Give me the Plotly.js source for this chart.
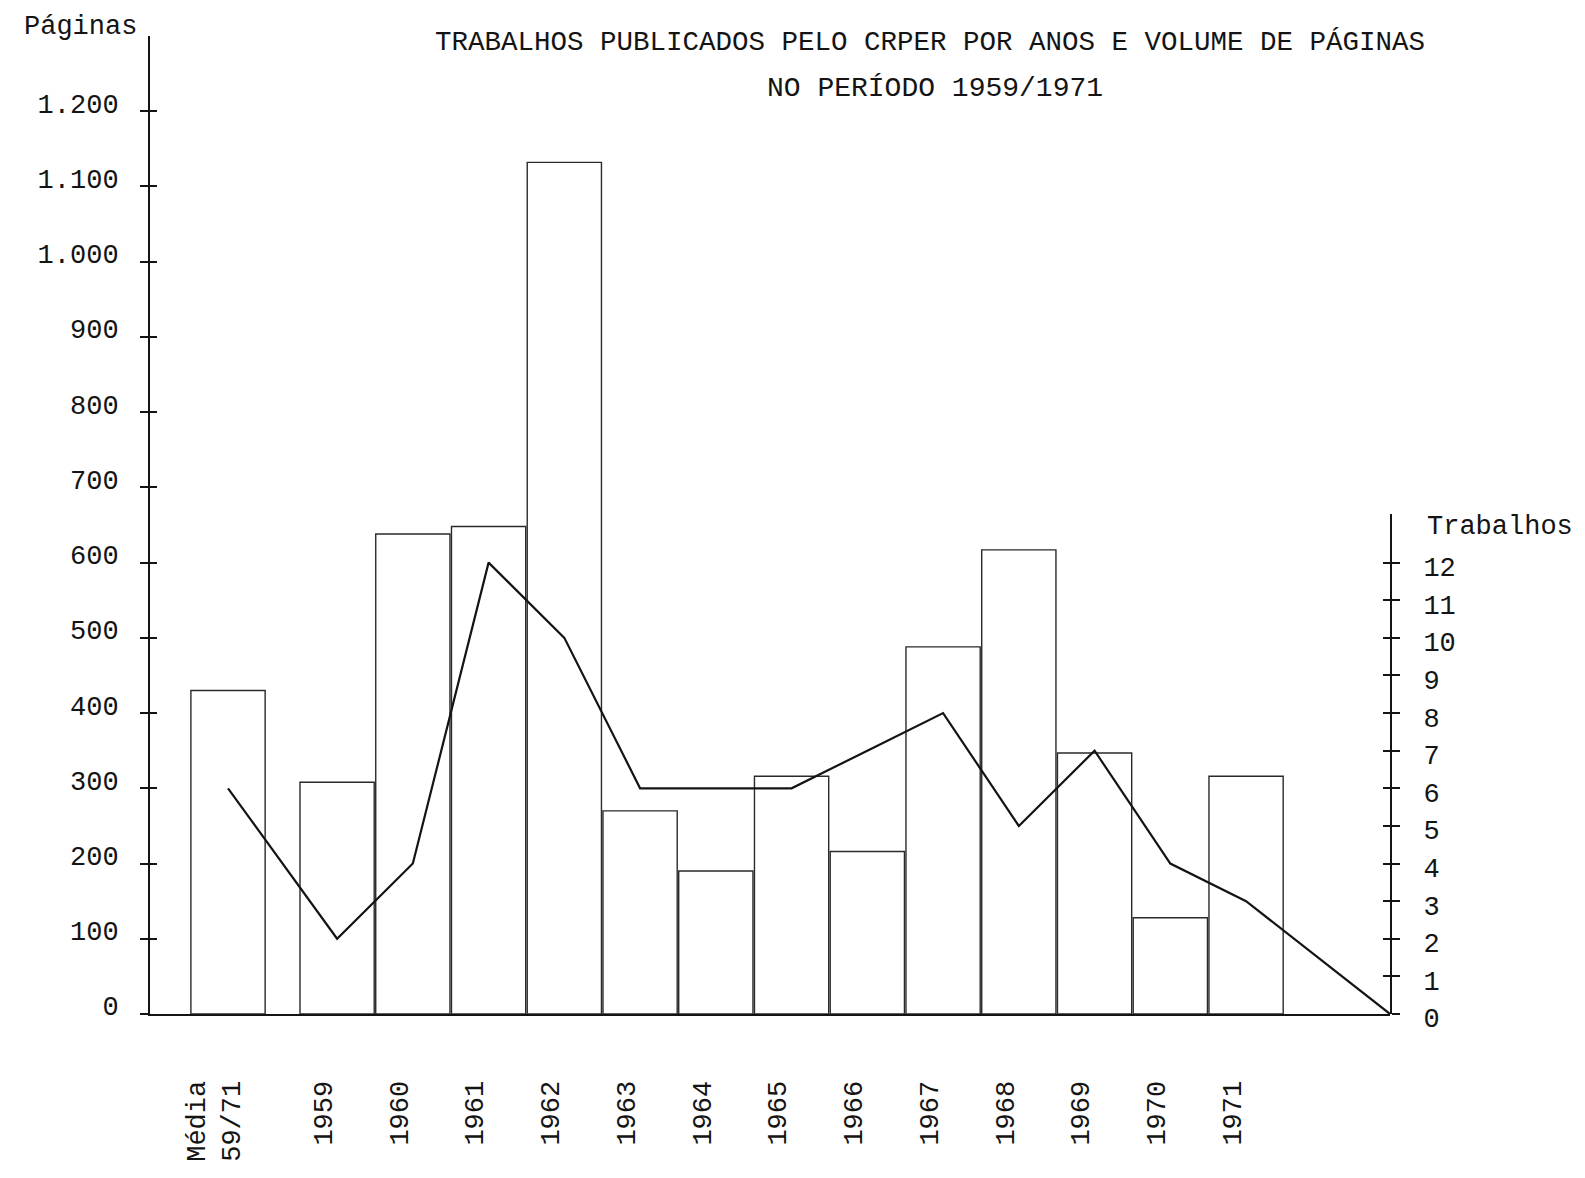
<!DOCTYPE html>
<html>
<head>
<meta charset="utf-8">
<script src="https://cdn.plot.ly/plotly-3.0.1.min.js"></script>
<style>
  html, body { margin: 0; padding: 0; background: #ffffff; }
  #chart { width: 1585px; height: 1178px; }
</style>
</head>
<body>
<div id="chart"></div>
<script>
// ---- data ----
const categorias = ['Média<br>59/71', '1959', '1960', '1961', '1962', '1963', '1964',
                    '1965', '1966', '1967', '1968', '1969', '1970', '1971'];
const paginas    = [430, 308, 638, 648, 1132, 270, 190, 316, 216, 488, 617, 347, 128, 316];
const trabalhos  = [6, 2, 4, 12, 10, 6, 6, 6, 7, 8, 5, 7, 4, 3];
const trabalhosFim = 0;   // the line is closed down to the origin of the right scale

const ticksPaginas      = [0, 100, 200, 300, 400, 500, 600, 700, 800, 900, 1000, 1100, 1200];
const ticksPaginasTexto = ['0', '100', '200', '300', '400', '500', '600', '700', '800', '900',
                           '1.000', '1.100', '1.200'];
const ticksTrabalhos    = [0, 1, 2, 3, 4, 5, 6, 7, 8, 9, 10, 11, 12];

// ---- layout constants ----
const FONT = 'Liberation Mono, DejaVu Sans Mono, monospace';
const INK = '#141414';
const GAP_MEDIA = 1.44;                 // the average bar stands apart from the years
const X_RANGE = [-2.47, 13.9];
const Y_MAX = 1300;
const PAGES_PER_WORK = 50;              // right scale: 1 trabalho = 50 páginas
const Y2_MAX = 13.3;
const Y2_DOMAIN = [0, Y2_MAX / (Y_MAX / PAGES_PER_WORK)];

const xPos = categorias.map((c, i) => i === 0 ? -GAP_MEDIA : i - 1);

const barras = {
  type: 'bar',
  x: xPos,
  y: paginas,
  width: 0.98,
  marker: { color: 'rgba(0,0,0,0)', line: { color: '#2a2a2a', width: 1.4 } },
  xaxis: 'x', yaxis: 'y',
  hoverinfo: 'skip',
  showlegend: false
};

const linha = {
  type: 'scatter',
  mode: 'lines',
  x: xPos.concat([X_RANGE[1]]),
  y: trabalhos.concat([trabalhosFim]),
  line: { color: INK, width: 2.2 },
  xaxis: 'x', yaxis: 'y2',
  hoverinfo: 'skip',
  showlegend: false
};

// empty helper traces so that the overlaid tick-only axes get drawn
const apoio3 = { type: 'scatter', mode: 'lines', x: [], y: [], xaxis: 'x', yaxis: 'y3',
                 hoverinfo: 'skip', showlegend: false };
const apoio4 = { type: 'scatter', mode: 'lines', x: [], y: [], xaxis: 'x', yaxis: 'y4',
                 hoverinfo: 'skip', showlegend: false };

const tickFont = { family: FONT, size: 27, color: INK };

const layout = {
  width: 1585,
  height: 1178,
  paper_bgcolor: '#ffffff',
  plot_bgcolor: 'rgba(0,0,0,0)',
  margin: { l: 150, r: 195, t: 36, b: 164, pad: 0 },
  font: { family: FONT, color: INK },
  showlegend: false,
  title: {
    text: 'TRABALHOS PUBLICADOS PELO CRPER POR ANOS E VOLUME DE PÁGINAS',
    font: { family: FONT, size: 27.5, color: INK },
    x: 930 / 1585, xanchor: 'center', xref: 'container',
    y: 1 - 40 / 1178, yanchor: 'middle', yref: 'container'
  },
  xaxis: {
    range: X_RANGE,
    tickmode: 'array',
    tickvals: xPos,
    ticktext: categorias,
    tickangle: -90,
    ticks: '',
    tickfont: tickFont,
    ticklabelstandoff: 54,
    ticklabelshift: -14,
    showline: true, linecolor: INK, linewidth: 2,
    showgrid: false, zeroline: false,
    fixedrange: true
  },
  yaxis: {
    range: [0, Y_MAX],
    tickmode: 'array',
    tickvals: ticksPaginas,
    ticktext: ticksPaginasTexto,
    ticks: 'outside', ticklen: 8, tickwidth: 2, tickcolor: INK,
    tickfont: tickFont,
    ticklabelstandoff: 16,
    ticklabelshift: -8,
    showline: true, linecolor: INK, linewidth: 2,
    showgrid: false, zeroline: false,
    fixedrange: true
  },
  yaxis2: {
    domain: Y2_DOMAIN,
    range: [0, Y2_MAX],
    anchor: 'x',
    side: 'right',
    tickmode: 'array',
    tickvals: ticksTrabalhos,
    ticks: 'outside', ticklen: 8, tickwidth: 2, tickcolor: INK,
    tickfont: tickFont,
    ticklabelstandoff: 18,
    ticklabelshift: 4,
    showline: true, linecolor: INK, linewidth: 2,
    showgrid: false, zeroline: false,
    fixedrange: true
  },
  // inner halves of the "+" shaped tick marks
  yaxis3: {
    overlaying: 'y', anchor: 'x', side: 'left',
    range: [0, Y_MAX],
    tickmode: 'array', tickvals: ticksPaginas,
    ticks: 'inside', ticklen: 7, tickwidth: 2, tickcolor: INK,
    showticklabels: false, showline: false, showgrid: false, zeroline: false,
    fixedrange: true
  },
  yaxis4: {
    overlaying: 'y2', anchor: 'x', side: 'right',
    range: [0, Y2_MAX],
    tickmode: 'array', tickvals: ticksTrabalhos,
    ticks: 'inside', ticklen: 7, tickwidth: 2, tickcolor: INK,
    showticklabels: false, showline: false, showgrid: false, zeroline: false,
    fixedrange: true
  },
  annotations: [
    {
      text: 'NO PERÍODO 1959/1971',
      xref: 'paper', yref: 'paper',
      x: (935 - 150) / 1240, y: (1014 - 89) / 978,
      xanchor: 'center', yanchor: 'middle',
      showarrow: false,
      font: { family: FONT, size: 28, color: INK }
    },
    {
      text: 'Páginas',
      xref: 'paper', yref: 'paper',
      x: (80 - 150) / 1240, y: (1014 - 27) / 978,
      xanchor: 'center', yanchor: 'middle',
      showarrow: false,
      font: { family: FONT, size: 27, color: INK }
    },
    {
      text: 'Trabalhos',
      xref: 'paper', yref: 'paper',
      x: (1500 - 150) / 1240, y: (1014 - 527) / 978,
      xanchor: 'center', yanchor: 'middle',
      showarrow: false,
      font: { family: FONT, size: 27, color: INK }
    }
  ]
};

Plotly.newPlot('chart', [barras, linha, apoio3, apoio4], layout, { staticPlot: true, displayModeBar: false });
</script>
</body>
</html>
